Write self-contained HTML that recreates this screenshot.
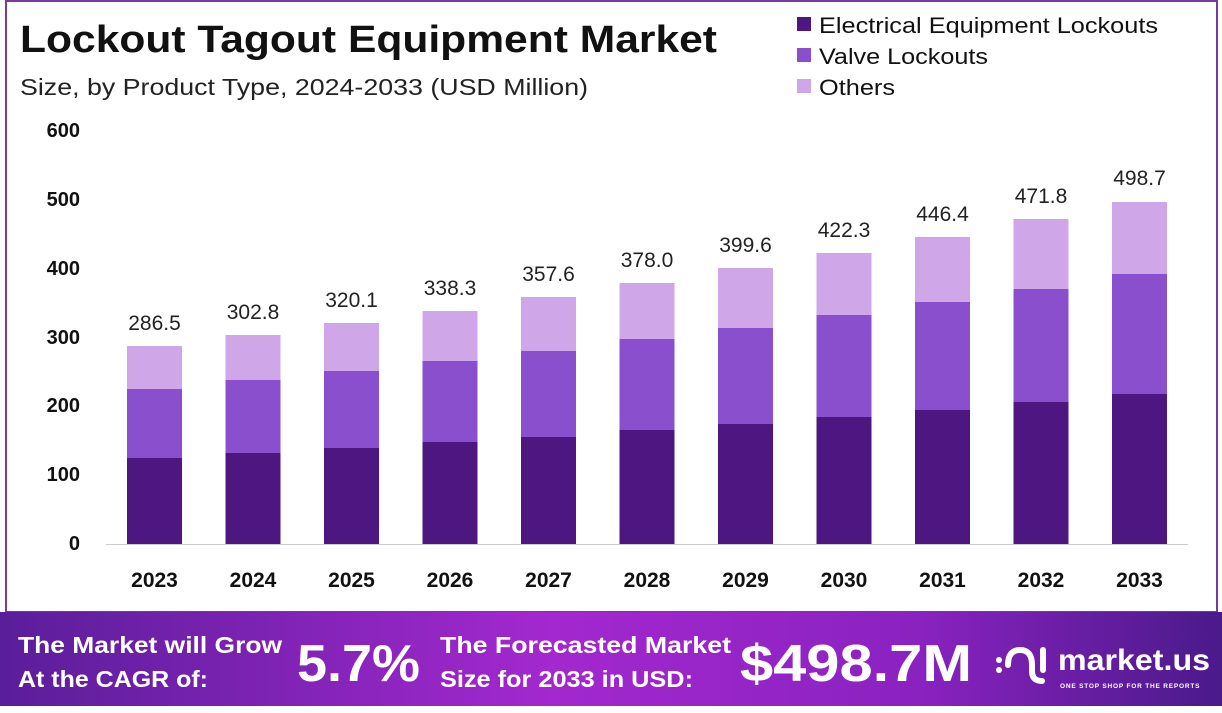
<!DOCTYPE html>
<html><head><meta charset="utf-8"><style>
body{margin:0;width:1222px;height:708px;overflow:hidden;background:#fff;font-family:"Liberation Sans",sans-serif}
</style></head><body>
<svg width="1222" height="708" viewBox="0 0 1222 708" xmlns="http://www.w3.org/2000/svg" font-family="Liberation Sans, sans-serif">
<defs>
<linearGradient id="ft" x1="0" x2="1" y1="0" y2="0">
<stop offset="0" stop-color="#5a1e9a"/><stop offset="0.45" stop-color="#a328cf"/><stop offset="0.75" stop-color="#8a22c0"/><stop offset="1" stop-color="#4a1a8a"/>
</linearGradient>
</defs>
<rect x="0" y="0" width="1222" height="708" fill="#fff"/>
<rect x="6" y="1" width="1211" height="611" fill="none" stroke="#7b3a9a" stroke-width="2"/>
<text x="20" y="52" font-size="38" font-weight="bold" fill="#111" textLength="697" lengthAdjust="spacingAndGlyphs">Lockout Tagout Equipment Market</text>
<text x="20" y="95" font-size="23" fill="#222" textLength="568" lengthAdjust="spacingAndGlyphs">Size, by Product Type, 2024-2033 (USD Million)</text>
<rect x="797" y="17" width="14" height="14" fill="#4e1680"/><text x="819" y="33" font-size="22" fill="#111" textLength="339" lengthAdjust="spacingAndGlyphs">Electrical Equipment Lockouts</text>
<rect x="797" y="48" width="14" height="14" fill="#8a4fcc"/><text x="819" y="64" font-size="22" fill="#111" textLength="169" lengthAdjust="spacingAndGlyphs">Valve Lockouts</text>
<rect x="797" y="79" width="14" height="14" fill="#cfa6e8"/><text x="819" y="95" font-size="22" fill="#111" textLength="76" lengthAdjust="spacingAndGlyphs">Others</text>
<g font-size="20" font-weight="bold" fill="#111" text-anchor="end">
<text x="80" y="137">600</text><text x="80" y="206">500</text><text x="80" y="275">400</text><text x="80" y="344">300</text><text x="80" y="412">200</text><text x="80" y="481">100</text><text x="80" y="550">0</text>
</g>
<line x1="106" y1="544.5" x2="1188" y2="544.5" stroke="#ccc" stroke-width="1"/>
<g id="bars">
<rect x="127" y="346" width="55" height="43" fill="#cfa6e8"/><rect x="127" y="389" width="55" height="69" fill="#8a4fcc"/><rect x="127" y="458" width="55" height="86" fill="#4e1680"/>
<rect x="225.5" y="335" width="55" height="45" fill="#cfa6e8"/><rect x="225.5" y="380" width="55" height="73" fill="#8a4fcc"/><rect x="225.5" y="453" width="55" height="91" fill="#4e1680"/>
<rect x="324" y="323" width="55" height="48" fill="#cfa6e8"/><rect x="324" y="371" width="55" height="77" fill="#8a4fcc"/><rect x="324" y="448" width="55" height="96" fill="#4e1680"/>
<rect x="422.5" y="311" width="55" height="50" fill="#cfa6e8"/><rect x="422.5" y="361" width="55" height="81" fill="#8a4fcc"/><rect x="422.5" y="442" width="55" height="102" fill="#4e1680"/>
<rect x="521" y="297" width="55" height="54" fill="#cfa6e8"/><rect x="521" y="351" width="55" height="86" fill="#8a4fcc"/><rect x="521" y="437" width="55" height="107" fill="#4e1680"/>
<rect x="619.5" y="283" width="55" height="56" fill="#cfa6e8"/><rect x="619.5" y="339" width="55" height="91" fill="#8a4fcc"/><rect x="619.5" y="430" width="55" height="114" fill="#4e1680"/>
<rect x="718" y="268" width="55" height="60" fill="#cfa6e8"/><rect x="718" y="328" width="55" height="96" fill="#8a4fcc"/><rect x="718" y="424" width="55" height="120" fill="#4e1680"/>
<rect x="816.5" y="253" width="55" height="62" fill="#cfa6e8"/><rect x="816.5" y="315" width="55" height="102" fill="#8a4fcc"/><rect x="816.5" y="417" width="55" height="127" fill="#4e1680"/>
<rect x="915" y="237" width="55" height="65" fill="#cfa6e8"/><rect x="915" y="302" width="55" height="108" fill="#8a4fcc"/><rect x="915" y="410" width="55" height="134" fill="#4e1680"/>
<rect x="1013.5" y="219" width="55" height="70" fill="#cfa6e8"/><rect x="1013.5" y="289" width="55" height="113" fill="#8a4fcc"/><rect x="1013.5" y="402" width="55" height="142" fill="#4e1680"/>
<rect x="1112" y="202" width="55" height="72" fill="#cfa6e8"/><rect x="1112" y="274" width="55" height="120" fill="#8a4fcc"/><rect x="1112" y="394" width="55" height="150" fill="#4e1680"/>
</g>
<g font-size="21" fill="#222" text-anchor="middle">
<text x="154.5" y="330">286.5</text><text x="253" y="319">302.8</text><text x="351.5" y="307">320.1</text><text x="450" y="295">338.3</text><text x="548.5" y="281">357.6</text><text x="647" y="267">378.0</text><text x="745.5" y="252">399.6</text><text x="844" y="237">422.3</text><text x="942.5" y="221">446.4</text><text x="1041" y="203">471.8</text><text x="1139.5" y="185">498.7</text>
</g>
<g font-size="21" font-weight="bold" fill="#111" text-anchor="middle">
<text x="154.5" y="587">2023</text><text x="253" y="587">2024</text><text x="351.5" y="587">2025</text><text x="450" y="587">2026</text><text x="548.5" y="587">2027</text><text x="647" y="587">2028</text><text x="745.5" y="587">2029</text><text x="844" y="587">2030</text><text x="942.5" y="587">2031</text><text x="1041" y="587">2032</text><text x="1139.5" y="587">2033</text>
</g>
<rect x="0" y="612" width="1222" height="94" fill="url(#ft)"/>
<g fill="#fff" font-weight="bold">
<text x="18" y="653" font-size="23" textLength="264" lengthAdjust="spacingAndGlyphs">The Market will Grow</text>
<text x="18" y="687" font-size="23" textLength="190" lengthAdjust="spacingAndGlyphs">At the CAGR of:</text>
<text x="297" y="681" font-size="52" textLength="123" lengthAdjust="spacingAndGlyphs">5.7%</text>
<text x="440" y="653" font-size="23" textLength="291" lengthAdjust="spacingAndGlyphs">The Forecasted Market</text>
<text x="440" y="687" font-size="23" textLength="253" lengthAdjust="spacingAndGlyphs">Size for 2033 in USD:</text>
<text x="740" y="681" font-size="52" textLength="232" lengthAdjust="spacingAndGlyphs">$498.7M</text>
<text x="1058" y="670" font-size="30" textLength="152" lengthAdjust="spacingAndGlyphs">market.us</text>
<text x="1060" y="688" font-size="6.5" letter-spacing="0.8">ONE STOP SHOP FOR THE REPORTS</text>
</g>
<g fill="none" stroke="#fff" stroke-width="6" stroke-linecap="round">
<path d="M1008 665 q0 -15 12 -15 q12 0 12 15 v6 q0 10 10 10"/>
<path d="M1043 650 v20"/>
</g>
<circle cx="999" cy="660" r="3" fill="#fff"/><circle cx="999" cy="670" r="3" fill="#fff"/>
</svg>
</body></html>
